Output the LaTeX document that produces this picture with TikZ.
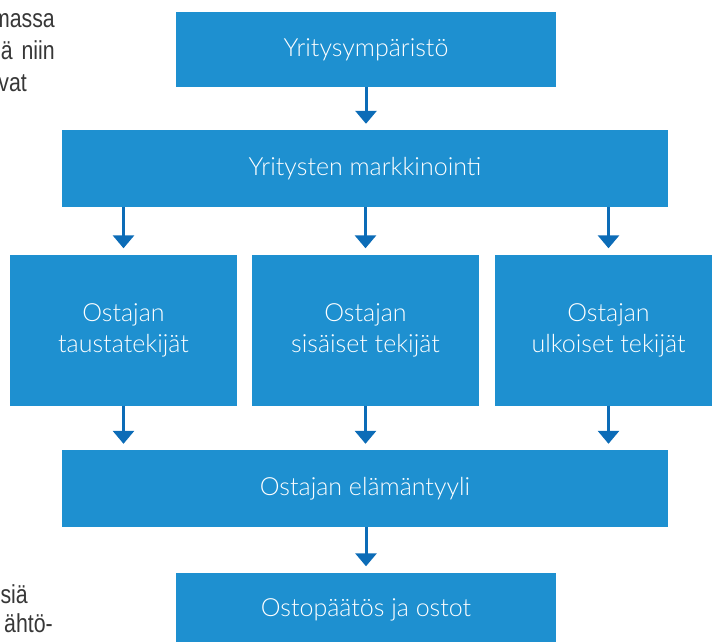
\documentclass[tikz,border=0pt]{standalone}
\usepackage{fontspec}
\setmainfont{Lato}[UprightFont=* Light]
\newfontfamily\reunafont{Liberation Sans}[FakeStretch=0.82]
\usetikzlibrary{arrows.meta}
\definecolor{laatikkosin}{RGB}{30,144,208}
\definecolor{nuolisin}{RGB}{12,108,183}
\definecolor{tekstiharmaa}{RGB}{55,55,55}

\begin{document}
\begin{tikzpicture}[
    x=1pt,y=-1pt,
    laatikko/.style={fill=laatikkosin,text=white,align=center,inner sep=0pt,
                     font=\fontsize{25}{31}\selectfont},
    nuoli/.style={draw=nuolisin,line width=3pt,shorten >=6pt,
                  -{Triangle[width=21pt,length=13pt]}},
    reuna/.style={text=tekstiharmaa,anchor=base east,inner sep=0pt,
                  font=\reunafont\fontsize{26}{31}\selectfont}]

  \useasboundingbox (0,0) rectangle (712,641);
  \clip (0,0) rectangle (712,641);

  % --- ylin ja alin laatikko ---
  \node[laatikko,minimum width=380pt,minimum height=75pt]
    (ymparisto) at (366,49.5) {Yritysympäristö};
  \node[laatikko,minimum width=606pt,minimum height=77pt]
    (markkinointi) at (365,168.5) {Yritysten markkinointi};
  \node[laatikko,minimum width=606pt,minimum height=77pt]
    (elamantyyli) at (365,488.5) {Ostajan elämäntyyli};
  \node[laatikko,minimum width=380pt,minimum height=75pt]
    (ostot) at (366,610) {Ostopäätös ja ostot};

  % --- ostajan tekijät, kolme rinnakkain ---
  \foreach \x/\nimi/\teksti in {123.5/tausta/taustatekijät,
                                365.5/sisaiset/sisäiset tekijät,
                                608.5/ulkoiset/ulkoiset tekijät}{
    \node[laatikko,minimum width=227pt,minimum height=151pt]
      (\nimi) at (\x,330) {Ostajan\\\teksti};
  }

  % --- nuolet ---
  \draw[nuoli] (ymparisto.south) -- (ymparisto.south |- markkinointi.north);
  \foreach \nimi in {tausta,sisaiset,ulkoiset}{
    \draw[nuoli] (\nimi.north |- markkinointi.south) -- (\nimi.north);
    \draw[nuoli] (\nimi.south) -- (\nimi.south |- elamantyyli.north);
  }
  \draw[nuoli] (ostot.north |- elamantyyli.south) -- (ostot.north);

  % --- reunan tekstinpalat ---
  \node[reuna] (massa) at (55,27) {massa};
  \node[reuna] (niin) at (55,59) {ä\hspace{9pt}niin};
  \node[reuna] (vat) at (27,91) {vat};
  \node[reuna] (sia) at (28,603) {siä};
  \node[reuna] (ahto) at (53,632) {ähtö-};

\end{tikzpicture}
\end{document}
